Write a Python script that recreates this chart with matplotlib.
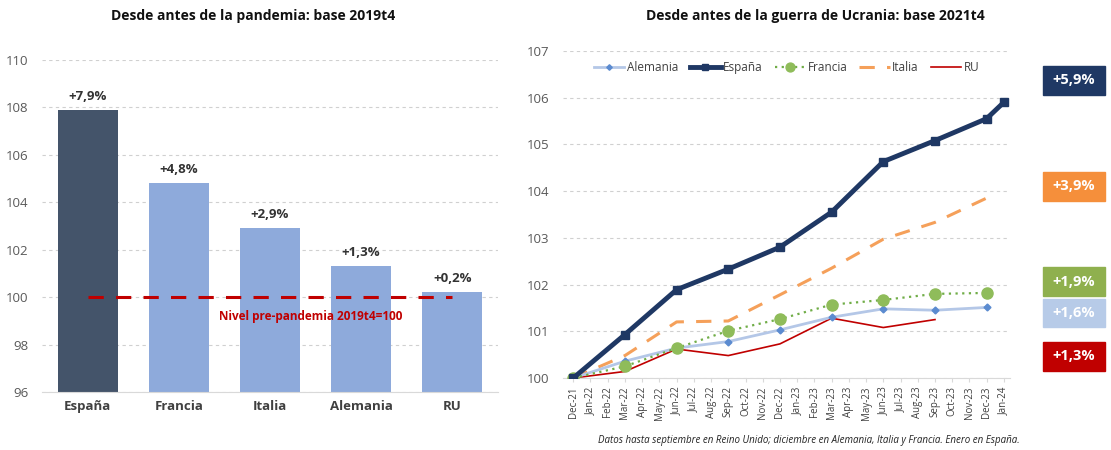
import matplotlib.pyplot as plt
import numpy as np
from matplotlib.patches import Rectangle

# left chart: index 2019t4 = 100
bar_countries = ['España', 'Francia', 'Italia', 'Alemania', 'RU']
bar_values = [107.9, 104.8, 102.9, 101.3, 100.2]
bar_labels = ['+7,9%', '+4,8%', '+2,9%', '+1,3%', '+0,2%']

# right chart: index 2021t4 = 100, monthly axis
months = ['Dec-21', 'Jan-22', 'Feb-22', 'Mar-22', 'Apr-22', 'May-22', 'Jun-22', 'Jul-22',
          'Aug-22', 'Sep-22', 'Oct-22', 'Nov-22', 'Dec-22', 'Jan-23', 'Feb-23', 'Mar-23',
          'Apr-23', 'May-23', 'Jun-23', 'Jul-23', 'Aug-23', 'Sep-23', 'Oct-23', 'Nov-23',
          'Dec-23', 'Jan-24']
quarter_months = ['Dec-21', 'Mar-22', 'Jun-22', 'Sep-22', 'Dec-22', 'Mar-23', 'Jun-23',
                  'Sep-23', 'Dec-23']
espana_months = quarter_months + ['Jan-24']
espana = [100, 100.93, 101.89, 102.33, 102.80, 103.55, 104.63, 105.08, 105.55, 105.90]
alemania = [100, 100.36, 100.64, 100.78, 101.03, 101.30, 101.48, 101.45, 101.51]
francia = [100, 100.25, 100.64, 101.01, 101.26, 101.57, 101.67, 101.80, 101.82]
italia = [100, 100.48, 101.20, 101.22, 101.78, 102.35, 102.97, 103.33, 103.85]
ru_months = quarter_months[:8]
ru = [100, 100.14, 100.62, 100.48, 100.73, 101.28, 101.08, 101.25]

end_labels = ['+5,9%', '+3,9%', '+1,9%', '+1,6%', '+1,3%']
end_colors = ['#1f3864', '#f58f3b', '#8fb04e', '#b7cbe8', '#c00000']

plt.rcParams['font.family'] = ['Open Sans', 'DejaVu Sans']

fig = plt.figure(figsize=(11.11, 4.5), dpi=100)
grid_kw = dict(color='#d0d0d0', linestyle=(0, (3, 3)), linewidth=0.8)

# ---- left: bars
ax1 = fig.add_axes([0.038, 0.129, 0.41, 0.738])
x = np.arange(len(bar_countries))
colors = ['#44546a'] + ['#8eaadb'] * 4
ax1.bar(x, np.array(bar_values) - 96, bottom=96, width=0.66, color=colors, zorder=2)
for xi, v, lab in zip(x, bar_values, bar_labels):
    ax1.text(xi, v + 0.3, lab, ha='center', va='bottom', fontsize=9.5,
             fontweight='bold', color='#333333')
ax1.plot([0, 4], [100, 100], color='#c00000', linestyle=(0, (5, 4)), linewidth=2.2, zorder=3)
ax1.text(2.45, 99.2, 'Nivel pre-pandemia 2019t4=100', ha='center', va='center',
         fontsize=8.5, fontweight='bold', color='#c00000', zorder=4)
ax1.set_xlim(-0.5, 4.5)
ax1.set_ylim(96, 110)
ax1.set_yticks(range(96, 111, 2))
ax1.set_xticks(x)
ax1.set_xticklabels(bar_countries, fontsize=9.5, fontweight='bold', color='#404040')
ax1.tick_params(axis='y', labelsize=9.5, colors='#595959', length=0, pad=10)
ax1.tick_params(axis='x', length=0, pad=6)
ax1.yaxis.grid(True, **grid_kw)
ax1.set_axisbelow(True)
for s in ['top', 'right', 'left']:
    ax1.spines[s].set_visible(False)
ax1.spines['bottom'].set_color('#d9d9d9')
fig.text(0.228, 0.965, 'Desde antes de la pandemia: base 2019t4', ha='center', va='center',
         fontsize=10, fontweight='bold', color='#111111')

# ---- right: lines
ax2 = fig.add_axes([0.507, 0.16, 0.402, 0.727])
pos = {m: i for i, m in enumerate(months)}
xq = [pos[m] for m in quarter_months]
ax2.plot(xq, alemania, color='#b4c7e7', linewidth=2, marker='D', markersize=3.5,
         markerfacecolor='#5b8bd0', markeredgecolor='#5b8bd0', label='Alemania', zorder=3)
ax2.plot([pos[m] for m in espana_months], espana, color='#1f3864', linewidth=3.5,
         marker='s', markersize=6, label='España', zorder=5)
ax2.plot(xq, francia, color='#70ad47', linewidth=1.6, linestyle=(0, (1, 2)),
         marker='o', markersize=8, markerfacecolor='#8fbc5a', markeredgecolor='#8fbc5a',
         label='Francia', zorder=4)
ax2.plot(xq, italia, color='#f5a05a', linewidth=2.2, linestyle=(0, (5, 4)),
         label='Italia', zorder=2)
ax2.plot([pos[m] for m in ru_months], ru, color='#c00000', linewidth=1.2, label='RU', zorder=2)
ax2.set_xlim(-0.58, 25.35)
ax2.set_ylim(100, 107)
ax2.set_yticks(range(100, 108))
ax2.set_xticks(range(len(months)))
ax2.set_xticklabels(months, rotation=90, fontsize=7, color='#404040')
ax2.tick_params(axis='y', labelsize=9.5, colors='#595959', length=0, pad=10)
ax2.tick_params(axis='x', length=3, color='#d9d9d9', pad=3)
ax2.yaxis.grid(True, **grid_kw)
ax2.set_axisbelow(True)
for s in ['top', 'right', 'left']:
    ax2.spines[s].set_visible(False)
ax2.spines['bottom'].set_color('#d9d9d9')
leg = ax2.legend(loc='upper center', bbox_to_anchor=(0.5, 1.0), ncol=5, frameon=False,
                 fontsize=8.5, handlelength=2.6, columnspacing=1.0, handletextpad=0.2,
                 labelcolor='#404040', markerscale=0.8)
fig.text(0.734, 0.965, 'Desde antes de la guerra de Ucrania: base 2021t4', ha='center',
         va='center', fontsize=10, fontweight='bold', color='#111111')

# end value boxes (pixel rows)
box_tops = [66, 172, 267, 299, 342]
box_bottoms = [95, 201, 296, 327, 371]
W, H = 1111, 450
for lab, col, t, b in zip(end_labels, end_colors, box_tops, box_bottoms):
    fig.patches.append(Rectangle((1043 / W, 1 - b / H), 62 / W, (b - t) / H,
                                 transform=fig.transFigure, color=col, zorder=5))
    fig.text(1074 / W, 1 - (t + b) / 2 / H, lab, ha='center', va='center', fontsize=10.5,
             fontweight='bold', color='white', zorder=6)

fig.text(0.728, 0.022, 'Datos hasta septiembre en Reino Unido; diciembre en Alemania, '
         'Italia y Francia. Enero en España.', ha='center', va='center', fontsize=7,
         style='italic', color='#222222')

fig.savefig('out.png', dpi=100)
